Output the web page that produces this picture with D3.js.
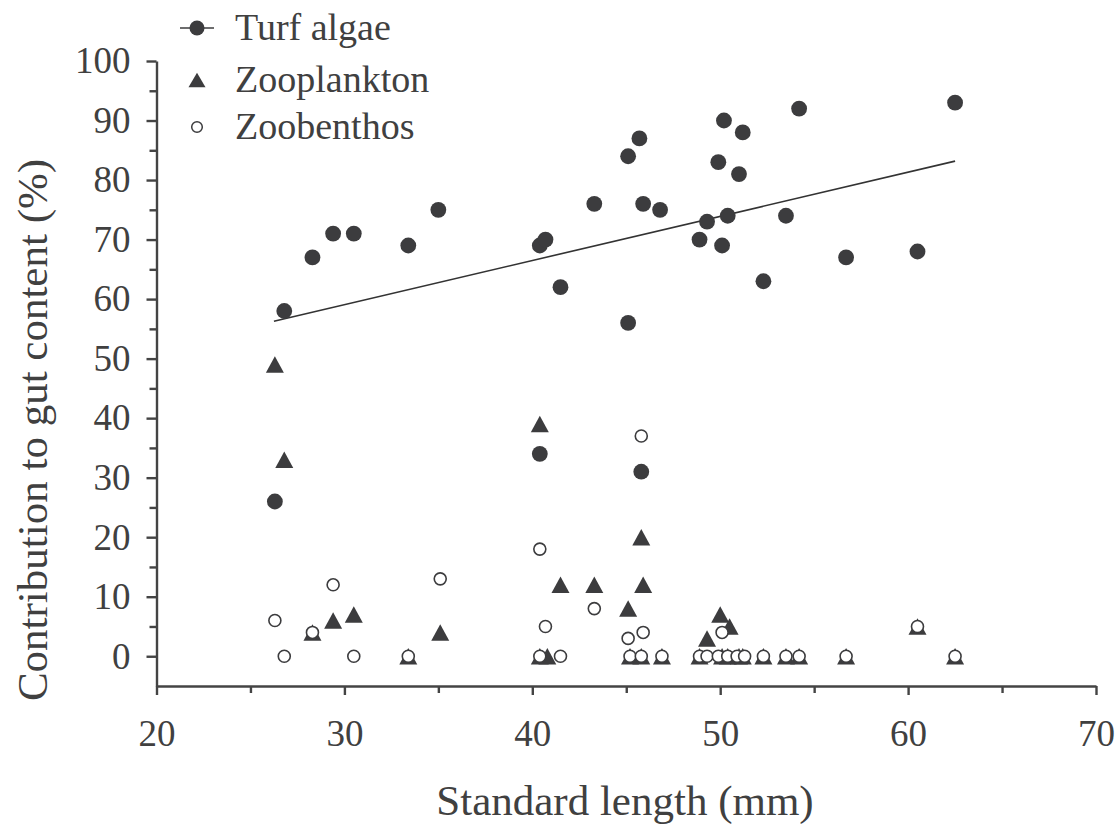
<!DOCTYPE html>
<html>
<head>
<meta charset="utf-8">
<script src="https://cdn.jsdelivr.net/npm/d3@7"></script>
<style>
  body { margin: 0; background: #fff; }
  text { font-family: "Liberation Serif", "Times New Roman", serif; fill: #404040; }
</style>
</head>
<body>
<div id="chart"></div>
<script>
const WIDTH = 1116;
const HEIGHT = 830;
const INK = "#3c3c3e";
const AXIS_COLOR = "#444";

// [standard length (mm), contribution (%)]
const turfAlgae = [
    [26.3, 26], [26.8, 58], [28.3, 67], [29.4, 71], [30.5, 71], [33.4, 69], [35.0, 75],
    [40.4, 69], [40.7, 70], [40.4, 34], [41.5, 62], [43.3, 76], [45.1, 84], [45.1, 56],
    [45.7, 87], [45.9, 76], [45.8, 31], [46.8, 75], [48.9, 70], [49.3, 73], [49.9, 83],
    [50.2, 90], [50.1, 69], [50.4, 74], [51.0, 81], [51.2, 88], [52.3, 63], [53.5, 74],
    [54.2, 92], [56.7, 67], [60.5, 68], [62.5, 93]
];

const zooplankton = [
    [26.3, 49], [26.8, 33], [28.3, 4], [29.4, 6], [30.5, 7], [33.4, 0], [35.1, 4],
    [40.4, 39], [40.4, 0], [40.8, 0], [41.5, 12], [43.3, 12], [45.1, 8], [45.8, 20],
    [45.9, 12], [45.2, 0], [45.8, 0], [46.9, 0], [48.9, 0], [49.3, 3], [50.0, 7],
    [50.5, 5], [50.1, 0], [50.4, 0], [51.0, 0], [51.2, 0], [52.3, 0], [53.5, 0],
    [54.2, 0], [56.7, 0], [60.5, 5], [62.5, 0]
];

const zoobenthos = [
    [26.3, 6], [26.8, 0], [28.3, 4], [29.4, 12], [30.5, 0], [33.4, 0], [35.1, 13],
    [40.4, 18], [40.4, 0], [40.7, 5], [41.5, 0], [43.3, 8], [45.1, 3], [45.2, 0],
    [45.8, 37], [45.9, 4], [45.8, 0], [46.9, 0], [48.9, 0], [49.3, 0], [49.9, 0],
    [50.1, 4], [50.4, 0], [50.9, 0], [51.3, 0], [52.3, 0], [53.5, 0], [54.2, 0],
    [56.7, 0], [60.5, 5], [62.5, 0]
];

// linear fit for turf algae as drawn in the figure
const fitRange = [26.25, 62.5];
const fitIntercept = 36.8;
const fitSlope = 0.742;

const xTicks = [20, 30, 40, 50, 60, 70];
const xMinorTicks = [25, 35, 45, 55, 65];
const yTicks = [0, 10, 20, 30, 40, 50, 60, 70, 80, 90, 100];
const yMinorTicks = [5, 15, 25, 35, 45, 55, 65, 75, 85, 95];

const legendItems = ["Turf algae", "Zooplankton", "Zoobenthos"];

const x = d3.scaleLinear().domain([20, 70]).range([156.5, 1096]);
const y = d3.scaleLinear().domain([-5, 100]).range([686, 61]);

const svg = d3.select("#chart")
    .append("svg")
    .attr("width", WIDTH)
    .attr("height", HEIGHT);

// minor ticks first, then the main axes on top
svg.append("g")
    .attr("transform", "translate(0," + y(-5) + ")")
    .call(d3.axisBottom(x).tickValues(xMinorTicks).tickSize(7).tickFormat("").tickSizeOuter(0))
    .call(g => g.select(".domain").remove());

svg.append("g")
    .attr("transform", "translate(" + x(20) + ",0)")
    .call(d3.axisLeft(y).tickValues(yMinorTicks).tickSize(7).tickFormat("").tickSizeOuter(0))
    .call(g => g.select(".domain").remove());

const xAxis = svg.append("g")
    .attr("transform", "translate(0," + y(-5) + ")")
    .call(d3.axisBottom(x).tickValues(xTicks).tickSize(9).tickPadding(25).tickSizeOuter(0));

const yAxis = svg.append("g")
    .attr("transform", "translate(" + x(20) + ",0)")
    .call(d3.axisLeft(y).tickValues(yTicks).tickSize(10).tickPadding(16).tickSizeOuter(0));

svg.selectAll(".tick line, .domain")
    .attr("stroke", AXIS_COLOR)
    .attr("stroke-width", 2.4);

[xAxis, yAxis].forEach(function (g) {
    g.selectAll("text")
        .attr("fill", "#404040")
        .style("font-family", '"Liberation Serif", serif')
        .style("font-size", "37px");
});

// axis titles
svg.append("text")
    .attr("x", 625)
    .attr("y", 815)
    .attr("text-anchor", "middle")
    .style("font-size", "43px")
    .text("Standard length (mm)");

svg.append("text")
    .attr("transform", "translate(47,430) rotate(-90)")
    .attr("text-anchor", "middle")
    .style("font-size", "43px")
    .text("Contribution to gut content (%)");

// regression line
svg.append("line")
    .attr("x1", x(fitRange[0]))
    .attr("y1", y(fitIntercept + fitSlope * fitRange[0]))
    .attr("x2", x(fitRange[1]))
    .attr("y2", y(fitIntercept + fitSlope * fitRange[1]))
    .attr("stroke", "#333")
    .attr("stroke-width", 1.6);

function trianglePath(w, h) {
    return "M0," + (-h / 2) + "L" + (w / 2) + "," + (h / 2) + "L" + (-w / 2) + "," + (h / 2) + "Z";
}

svg.append("g")
    .selectAll("circle")
    .data(turfAlgae)
    .enter().append("circle")
    .attr("cx", d => x(d[0]))
    .attr("cy", d => y(d[1]))
    .attr("r", 7.9)
    .attr("fill", INK);

svg.append("g")
    .selectAll("path")
    .data(zooplankton)
    .enter().append("path")
    .attr("transform", d => "translate(" + x(d[0]) + "," + y(d[1]) + ")")
    .attr("d", trianglePath(18, 16.5))
    .attr("fill", INK);

svg.append("g")
    .selectAll("circle")
    .data(zoobenthos)
    .enter().append("circle")
    .attr("cx", d => x(d[0]))
    .attr("cy", d => y(d[1]))
    .attr("r", 6)
    .attr("fill", "#fff")
    .attr("stroke", INK)
    .attr("stroke-width", 1.6);

// legend
const legend = svg.append("g");
const legendY = [28, 80, 127];

legend.append("line")
    .attr("x1", 180).attr("x2", 214)
    .attr("y1", legendY[0]).attr("y2", legendY[0])
    .attr("stroke", INK).attr("stroke-width", 1.6);
legend.append("circle")
    .attr("cx", 197).attr("cy", legendY[0]).attr("r", 7.5)
    .attr("fill", INK);
legend.append("path")
    .attr("transform", "translate(197," + legendY[1] + ")")
    .attr("d", trianglePath(17, 14.5))
    .attr("fill", INK);
legend.append("circle")
    .attr("cx", 197).attr("cy", legendY[2]).attr("r", 5.3)
    .attr("fill", "#fff").attr("stroke", INK).attr("stroke-width", 1.5);

legend.selectAll("text")
    .data(legendItems)
    .enter().append("text")
    .attr("x", 235)
    .attr("y", (d, i) => legendY[i] + 12)
    .style("font-size", "38px")
    .text(d => d);
</script>
</body>
</html>
